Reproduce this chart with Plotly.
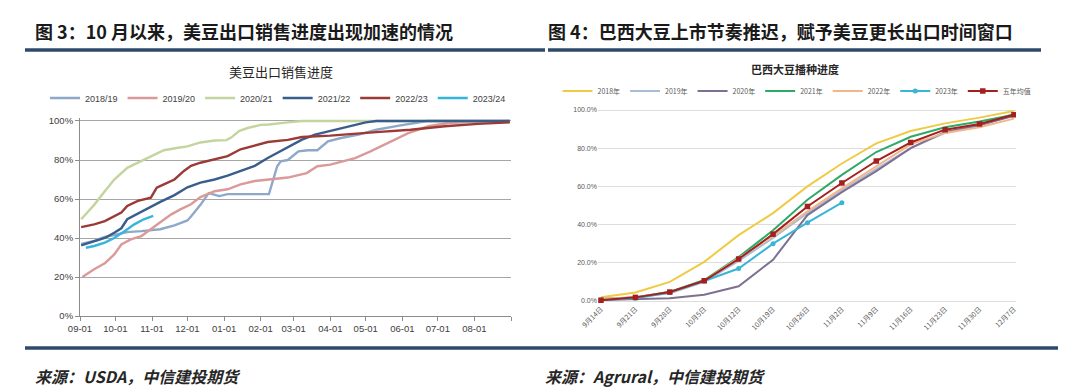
import plotly.graph_objects as go

W, H = 1080, 391

# ---------------- Left chart: 美豆出口销售进度 (% of annual export sales) ----------------
left_series_names = ["2018/19", "2019/20", "2020/21", "2021/22", "2022/23", "2023/24"]

dates_1819 = ["09-02", "09-13", "09-22", "09-30", "10-11", "10-23", "10-31", "11-08", "11-20", "12-01",
              "12-04", "12-12", "12-19", "12-28", "01-04", "01-20", "02-08", "02-15", "02-18", "02-24",
              "03-05", "03-13", "03-21", "03-30", "04-10", "04-25", "05-10", "05-28", "06-22", "07-15", "08-31"]
vals_1819 = [37, 38.5, 40.5, 41.5, 43, 43.5, 44, 44.5, 46.5, 49,
             51, 57, 63, 61.5, 62.5, 62.5, 62.5, 76.8, 79.3, 80,
             84.4, 85, 85, 89.6, 91.3, 93, 95.5, 97.5, 100, 100, 100]

dates_1920 = ["09-03", "09-13", "09-22", "09-30", "10-06", "10-14", "10-23", "10-31", "11-08", "11-17",
              "11-25", "12-04", "12-12", "12-24", "01-04", "01-15", "01-27", "02-08", "02-24", "03-12",
              "03-21", "04-01", "04-13", "04-22", "05-05", "05-19", "06-06", "06-23", "07-10", "08-01", "08-31"]
vals_1920 = [20, 24, 27, 31.6, 36.7, 39.3, 41, 44.4, 47.9, 52,
             54.7, 57.3, 61, 64, 65, 67.5, 69.2, 70, 71, 73.3,
             76.8, 77.6, 79.7, 81, 84.4, 88.7, 93.8, 97.3, 99, 99.6, 100]

dates_2021 = ["09-02", "09-13", "09-22", "09-30", "10-11", "10-23", "10-31", "11-11", "11-23", "12-01",
              "12-12", "12-24", "01-03", "01-07", "01-14", "01-21", "02-01", "02-08", "02-24", "03-08", "08-31"]
vals_2021 = [49.6, 57, 64, 70, 76, 79.5, 81.5, 85, 86.3, 87,
             89, 90, 90.2, 91.5, 95, 96.4, 98, 98.2, 99.3, 100, 100]

dates_2122 = ["09-02", "09-13", "09-22", "09-30", "10-06", "10-11", "10-20", "10-29", "11-08", "11-20",
              "12-01", "12-12", "12-24", "01-04", "01-15", "01-27", "02-07", "02-24", "03-08", "03-19",
              "04-05", "04-17", "05-01", "05-10", "08-31"]
vals_2122 = [36.2, 38.3, 40, 42.7, 45, 49.6, 52.5, 55.5, 58.5, 62,
             66, 68.4, 70, 72, 74.4, 77, 81, 86.5, 90.4, 93,
             95.5, 97.3, 99.3, 100, 100]

dates_2223 = ["09-02", "09-13", "09-22", "09-30", "10-06", "10-11", "10-20", "10-31", "11-05", "11-11",
              "11-20", "11-28", "12-04", "12-12", "12-24", "01-04", "01-15", "01-27", "02-07", "02-24",
              "03-08", "04-01", "04-26", "05-10", "06-08", "07-07", "08-04", "08-31"]
vals_2223 = [45.6, 47, 48.7, 51.3, 53, 56.4, 59, 60.7, 65.8, 67.5,
             70, 74.4, 77, 78.6, 80.3, 82, 85.5, 87.5, 89.2, 90.3,
             91.8, 92.5, 93.8, 94.3, 95.5, 97.3, 98.5, 99.3]

dates_2324 = ["09-06", "09-13", "09-22", "09-30", "10-09", "10-17", "10-25", "11-02"]
vals_2324 = [35, 35.9, 37.6, 40, 43.6, 47, 49.6, 51.3]

left_colors = ["#8EA8C8", "#DA9A9A", "#C4D49E", "#3A5E8C", "#9B3A36", "#35B5DC"]

left_tick_dates = ["2022-09-01", "2022-10-01", "2022-11-01", "2022-12-01", "2023-01-01", "2023-02-01",
                   "2023-03-01", "2023-04-01", "2023-05-01", "2023-06-01", "2023-07-01", "2023-08-01",
                   "2023-09-01"]
left_tick_text = ["09-01", "10-01", "11-01", "12-01", "01-01", "02-01", "03-01",
                  "04-01", "05-01", "06-01", "07-01", "08-01", ""]
left_y_ticks = [0, 20, 40, 60, 80, 100]
left_y_text = ["0%", "20%", "40%", "60%", "80%", "100%"]

# ---------------- Right chart: 巴西大豆播种进度 ----------------
right_categories = ["9月14日", "9月21日", "9月28日", "10月5日", "10月12日", "10月19日", "10月26日",
                    "11月2日", "11月9日", "11月16日", "11月23日", "11月30日", "12月7日"]
right_series_names = ["2018年", "2019年", "2020年", "2021年", "2022年", "2023年", "五年均值"]
plant_2018 = [2, 4.5, 10, 20.5, 34.5, 46, 60, 72, 82.5, 89, 93, 96, 99.5]
plant_2019 = [1, 2, 4, 10, 21, 33, 46, 58, 69, 80, 88, 92, 98]
plant_2020 = [0.5, 1, 1.5, 3.3, 7.7, 21.6, 45, 57, 68, 80, 88.5, 92, 97]
plant_2021 = [1, 1.8, 4.8, 11, 23, 37, 53, 66, 78, 86, 91, 94, 97.5]
plant_2022 = [1, 2, 4.5, 10.5, 22.5, 34, 47, 59, 70.5, 82, 88, 91, 95.5]
plant_2023 = [0.5, 1.5, 4.5, 10.5, 17, 30, 41, 51.5]
plant_avg5 = [0.4, 1.9, 4.7, 10.6, 22, 35, 49.5, 61.8, 73.3, 83, 89.7, 92.7, 97.5]
right_colors = ["#EFCB45", "#A9BCD6", "#7E7092", "#2EAA68", "#F2B68A", "#3CB4D6", "#A3201F"]
right_y_ticks = [0, 20, 40, 60, 80, 100]
right_y_text = ["0.0%", "20.0%", "40.0%", "60.0%", "80.0%", "100.0%"]


def to_date(md):
    m = int(md[:2])
    y = 2022 if m >= 9 else 2023
    return f"{y}-{md}"


def px_x(p):
    return p / W


def px_y(p):
    return 1 - p / H


fig = go.Figure()

left_data = [(dates_1819, vals_1819), (dates_1920, vals_1920), (dates_2021, vals_2021),
             (dates_2122, vals_2122), (dates_2223, vals_2223), (dates_2324, vals_2324)]
for name, (d, v), c in zip(left_series_names, left_data, left_colors):
    fig.add_trace(go.Scatter(
        x=[to_date(s) for s in d], y=v, mode="lines", name=name,
        line=dict(color=c, width=2.4), xaxis="x", yaxis="y", legend="legend",
    ))

right_data = [plant_2018, plant_2019, plant_2020, plant_2021, plant_2022, plant_2023, plant_avg5]
for name, v, c in zip(right_series_names, right_data, right_colors):
    if name == "2023年":
        mode, marker = "lines+markers", dict(symbol="circle", size=5, color=c)
    elif name == "五年均值":
        mode, marker = "lines+markers", dict(symbol="square", size=5.5, color=c)
    else:
        mode, marker = "lines", None
    fig.add_trace(go.Scatter(
        x=right_categories[:len(v)], y=v, mode=mode, name=name,
        line=dict(color=c, width=2), marker=marker,
        xaxis="x2", yaxis="y2", legend="legend2",
    ))

grid_left = "#A6A6A6"
cjk = "Noto Sans CJK SC"
latin = "Liberation Sans"

fig.update_layout(
    width=W, height=H, autosize=False,
    margin=dict(l=0, r=0, t=0, b=0, pad=0, autoexpand=False),
    paper_bgcolor="white", plot_bgcolor="white",
    font=dict(family=cjk, color="#404040"),
    xaxis=dict(
        domain=[px_x(72), px_x(503)], anchor="y",
        type="date", range=["2022-09-01", "2023-09-01"],
        tickmode="array", tickvals=left_tick_dates, ticktext=left_tick_text, tickangle=0,
        showgrid=False, showline=True, linecolor="#8C8C8C", linewidth=1,
        ticks="outside", ticklen=4, tickcolor="#8C8C8C",
        tickfont=dict(family=latin, size=9.5, color="#404040"),
        zeroline=False, automargin=False,
    ),
    yaxis=dict(
        domain=[px_y(308), px_y(308 - 101.5 * 1.95)], anchor="x",
        range=[0, 101.5],
        tickmode="array", tickvals=left_y_ticks, ticktext=left_y_text,
        showgrid=True, gridcolor=grid_left, gridwidth=1,
        showline=True, linecolor="#8C8C8C", linewidth=1,
        ticks="outside", ticklen=4, tickcolor="#8C8C8C",
        tickfont=dict(family=latin, size=9.5, color="#404040"),
        zeroline=False, automargin=False,
    ),
    xaxis2=dict(
        domain=[px_x(590), px_x(1008)], anchor="y2",
        type="category", range=[-0.087, 12.06],
        categoryorder="array", categoryarray=right_categories,
        showgrid=False, showline=False, zeroline=False,
        tickangle=-45, ticks="",
        tickfont=dict(family=cjk, size=7, color="#595959"),
        automargin=False,
    ),
    yaxis2=dict(
        domain=[px_y(293 + 1.91), px_y(102 - 1.91)], anchor="x2",
        range=[-1, 101],
        tickmode="array", tickvals=right_y_ticks, ticktext=right_y_text,
        showgrid=True, gridcolor="#DDDDDD", gridwidth=1,
        showline=False, zeroline=False, ticks="",
        tickfont=dict(family=latin, size=7, color="#595959"),
        automargin=False,
    ),
    legend=dict(
        orientation="h", x=px_x(270), y=px_y(90), xanchor="center", yanchor="middle",
        font=dict(family=latin, size=9, color="#404040"),
        itemwidth=30, bgcolor="rgba(0,0,0,0)", tracegroupgap=0,
    ),
    legend2=dict(
        orientation="h", x=px_x(789), y=px_y(83), xanchor="center", yanchor="middle",
        font=dict(family=cjk, size=7, color="#595959"),
        itemwidth=30, bgcolor="rgba(0,0,0,0)", tracegroupgap=0,
    ),
    showlegend=True,
)

annotations = [
    dict(text="<b>图 3：10 月以来，美豆出口销售进度出现加速的情况</b>", x=px_x(25), y=px_y(23),
         font=dict(family=cjk, size=18, color="#1A1A1A"), xanchor="left"),
    dict(text="<b>图 4：巴西大豆上市节奏推迟，赋予美豆更长出口时间窗口</b>", x=px_x(538), y=px_y(23),
         font=dict(family=cjk, size=18, color="#1A1A1A"), xanchor="left"),
    dict(text="美豆出口销售进度", x=px_x(273), y=px_y(63),
         font=dict(family=cjk, size=13, color="#262626"), xanchor="center"),
    dict(text="<b>巴西大豆播种进度</b>", x=px_x(787), y=px_y(61),
         font=dict(family=cjk, size=11, color="#262626"), xanchor="center"),
    dict(text="<b><i>来源：USDA，中信建投期货</i></b>", x=px_x(25), y=px_y(368),
         font=dict(family=cjk, size=16, color="#262626"), xanchor="left"),
    dict(text="<b><i>来源：Agrural，中信建投期货</i></b>", x=px_x(535), y=px_y(368),
         font=dict(family=cjk, size=16, color="#262626"), xanchor="left"),
]
for a in annotations:
    fig.add_annotation(xref="paper", yref="paper", yanchor="middle", showarrow=False, **a)

rule_color = "#2E4A6B"
for x0, x1, y in [(17, 537, 42), (540, 1033, 42), (17, 1050, 340)]:
    fig.add_shape(type="line", xref="paper", yref="paper",
                  x0=px_x(x0), x1=px_x(x1), y0=px_y(y), y1=px_y(y),
                  line=dict(color=rule_color, width=3.5))

fig.write_html("out.html", config={"responsive": False})
